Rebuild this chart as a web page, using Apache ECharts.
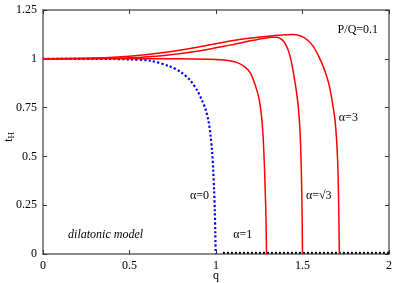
<!DOCTYPE html>
<html><head><meta charset="utf-8">
<script src="https://cdn.jsdelivr.net/npm/echarts@6/dist/echarts.min.js"></script>
<style>html,body{margin:0;padding:0;background:#fff}#c{width:403px;height:283px}</style>
</head><body><div id="c"></div>
<script>
var xTicks = [0, 0.5, 1, 1.5, 2];
var yTicks = [0, 0.25, 0.5, 0.75, 1, 1.25];
var alpha0 = [[0,1],[0.2,1],[0.4,0.999],[0.5,0.997],[0.62,0.99],[0.73,0.962],[0.8,0.93],[0.85,0.89],[0.89,0.84],[0.92,0.785],[0.94,0.74],[0.957,0.68],[0.968,0.61],[0.977,0.53],[0.984,0.43],[0.989,0.33],[0.993,0.22],[0.996,0.11],[0.998,0]];
var alpha1 = [[0,1],[0.5,1.001],[0.8,1.0],[1.0,0.996],[1.08,0.99],[1.13,0.978],[1.17,0.956],[1.2,0.925],[1.225,0.87],[1.245,0.81],[1.257,0.75],[1.266,0.68],[1.273,0.59],[1.279,0.47],[1.284,0.34],[1.289,0.18],[1.292,0]];
var alphaS3 = [[0,1],[0.3,1.002],[0.5,1.005],[0.7,1.017],[0.9,1.04],[1.08,1.07],[1.2,1.092],[1.27,1.104],[1.32,1.11],[1.35,1.11],[1.375,1.102],[1.395,1.085],[1.415,1.05],[1.432,1.0],[1.447,0.93],[1.462,0.85],[1.475,0.76],[1.485,0.64],[1.491,0.5],[1.495,0.35],[1.498,0.18],[1.5,0]];
var alpha3 = [[0,1],[0.3,1.004],[0.5,1.013],[0.7,1.032],[0.9,1.06],[1.05,1.086],[1.2,1.106],[1.3,1.116],[1.38,1.122],[1.44,1.124],[1.49,1.117],[1.53,1.095],[1.565,1.06],[1.595,1.01],[1.62,0.96],[1.64,0.91],[1.658,0.85],[1.672,0.78],[1.686,0.7],[1.696,0.6],[1.703,0.48],[1.707,0.35],[1.71,0.2],[1.713,0]];
var zeroLine = [[1.04,0.006],[2,0.006]];

var chart = echarts.init(document.getElementById('c'));
var serif = 'Liberation Serif';
var axisCol = '#666';
function xa(pos, lab){
  return {type:'value', position:pos, min:0, max:2, interval:0.5,
    axisLine:{show:true,onZero:false,lineStyle:{color:axisCol,width:1.5}},
    axisTick:{show:true,inside:true,length:4,lineStyle:{color:'#333',width:1}},
    axisLabel:{show:lab,color:'#000',fontFamily:serif,fontSize:12,margin:6,
      formatter:function(v){return xTicks.indexOf(v)>=0?String(v):'';}},
    splitLine:{show:false}};
}
function ya(pos, lab){
  return {type:'value', position:pos, min:0, max:1.25, interval:0.25,
    axisLine:{show:true,onZero:false,lineStyle:{color:axisCol,width:1.5}},
    axisTick:{show:true,inside:true,length:4,lineStyle:{color:'#333',width:1}},
    axisLabel:{show:lab,color:'#000',fontFamily:serif,fontSize:12,margin:6,
      formatter:function(v){return yTicks.indexOf(v)>=0?String(v):'';}},
    splitLine:{show:false}};
}
var red = '#ff0000';
function ls(data, color, type, w, z, sm){
  return {type:'line', data:data, showSymbol:false, smooth:sm, z:z,
    lineStyle:{color:color,width:w,type:type}, xAxisIndex:0, yAxisIndex:0, animation:false};
}
chart.setOption({
  animation:false,
  grid:{left:43, right:14, top:10, bottom:29, containLabel:false, outerBoundsMode:'none'},
  xAxis:[xa('bottom',true), xa('top',false)],
  yAxis:[ya('left',true), ya('right',false)],
  series:[
    ls(zeroLine,'#000','dotted',2,2,false),
    ls(alpha0,'#0000ff','dotted',2.2,3,0.3),
    ls(alpha1,red,'solid',1.5,4,0.3),
    ls(alphaS3,red,'solid',1.5,4,0.3),
    ls(alpha3,red,'solid',1.5,4,0.3)
  ]
});
function P(q,t){return chart.convertToPixel({xAxisIndex:0,yAxisIndex:0},[q,t]);}
var labels = [
  {q:1.703, t:1.15, s:'P/Q=0.1', style:'normal'},
  {q:1.71, t:0.696, s:'α=3', style:'normal'},
  {q:0.85, t:0.3, s:'α=0', style:'normal'},
  {q:1.52, t:0.3, s:'α=√3', style:'normal'},
  {q:1.1, t:0.096, s:'α=1', style:'normal'},
  {q:0.145, t:0.1, s:'dilatonic model', style:'italic'}
];
var g = labels.map(function(l){var p=P(l.q,l.t);return {type:'text', x:p[0], y:p[1],
  style:{text:l.s, fill:'#000', font:l.style+' 12px '+serif, textAlign:'left', textVerticalAlign:'middle'}};});
var qx = P(1,0);
g.push({type:'text', x:qx[0], y:276, style:{text:'q', fill:'#000', font:'12px '+serif, textAlign:'center', textVerticalAlign:'middle'}});
var ty = P(0,0.6);
g.push({type:'text', x:9, y:ty[1], rotation:Math.PI/2,
  style:{text:'{t|t}{s|H}', fill:'#000', textAlign:'center', textVerticalAlign:'middle',
    rich:{t:{fontFamily:serif,fontSize:12},s:{fontFamily:serif,fontSize:9,padding:[6,0,0,0]}}}});
chart.setOption({graphic:g});
</script></body></html>
